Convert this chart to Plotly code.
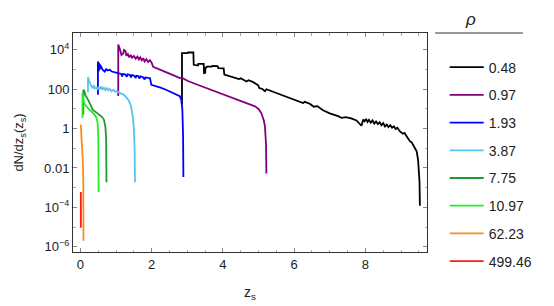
import plotly.graph_objects as go

rho_labels = ["0.48", "0.97", "1.93", "3.87", "7.75", "10.97", "62.23", "499.46"]
colors = ["#000000", "#800080", "#0000ff", "#55c5ee", "#1f9a2e", "#22ee22", "#ff8c1a", "#ff1a1a"]

x_048 = [2.85, 2.85, 3.00, 3.02, 3.17, 3.18, 3.30, 3.31, 3.46, 3.47, 3.50, 3.51, 3.55, 3.68, 3.70, 3.85, 3.87,
         4.02, 4.04, 4.20, 4.33, 4.45, 4.50, 4.60, 4.66, 4.72, 4.85, 4.99, 5.02, 5.10, 5.18, 5.22, 5.40, 5.70,
         6.00, 6.25, 6.30, 6.45, 6.55, 6.65, 6.81, 7.00, 7.25, 7.33, 7.45, 7.60, 7.75, 7.89, 7.94, 7.98, 8.02,
         8.06, 8.10, 8.15, 8.20, 8.25, 8.30, 8.35, 8.40, 8.45, 8.50, 8.55, 8.60, 8.65, 8.70, 8.75, 8.80, 8.85,
         8.90, 8.97, 9.05, 9.10, 9.17, 9.25, 9.30, 9.38, 9.44, 9.48, 9.50, 9.52, 9.53]
y_048 = [17, 6800, 6800, 7400, 7400, 1750, 1600, 1950, 1950, 660, 680, 1200, 1400, 1400, 1550, 1500, 1200,
         1150, 560, 470, 380, 330, 360, 300, 250, 290, 230, 160, 115, 105, 80, 100, 75, 48,
         30, 20, 23, 18, 13, 14, 8.5, 6.0, 4.2, 3.5, 3.8, 3.3, 2.6, 1.4, 2.9, 2.4, 3.1,
         2.2, 2.8, 2.0, 2.6, 1.8, 2.3, 1.7, 2.1, 1.5, 1.9, 1.3, 1.6, 1.2, 1.5, 1.1, 1.3, 0.95,
         1.1, 0.72, 0.55, 0.6, 0.38, 0.23, 0.2, 0.1, 0.07, 0.025, 0.008, 0.002, 0.00012]

x_097 = [1.06, 1.06, 1.10, 1.15, 1.20, 1.22, 1.26, 1.29, 1.33, 1.37, 1.41, 1.45, 1.50, 1.55, 1.60, 1.64, 1.68,
         1.72, 1.76, 1.80, 1.85, 1.90, 1.95, 2.00, 2.04, 2.13, 2.30, 2.50, 2.65, 2.79, 2.85, 2.95, 3.00, 3.25,
         3.50, 3.75, 4.00, 4.25, 4.50, 4.70, 4.90, 5.00, 5.08, 5.15, 5.18, 5.21, 5.22]
y_097 = [45, 19000, 12000, 5500, 6500, 10000, 9000, 5000, 6200, 4200, 5500, 4000, 5000, 3600, 4600, 3300, 4200,
         3000, 3800, 2600, 3400, 2400, 3000, 2200, 1400, 1175, 890, 630, 480, 370, 390, 300, 270, 180,
         123, 83, 56, 38, 26, 19, 13.5, 10, 6, 2.5, 1.26, 0.16, 0.0052]

x_193 = [0.49, 0.49, 0.51, 0.52, 0.54, 0.55, 0.59, 0.62, 0.68, 0.72, 0.76, 0.82, 0.88, 0.95, 1.01, 1.08, 1.14,
         1.17, 1.19, 1.25, 1.30, 1.32, 1.38, 1.42, 1.44, 1.50, 1.55, 1.57, 1.62, 1.66, 1.68, 1.75, 1.80, 1.82,
         1.90, 1.95, 1.99, 2.10, 2.25, 2.40, 2.55, 2.70, 2.79, 2.83, 2.86, 2.88, 2.89]
y_193 = [52, 2600, 800, 2200, 1000, 1800, 1200, 1000, 800, 1050, 900, 980, 800, 720, 660, 640, 600,
         450, 600, 580, 430, 570, 540, 400, 530, 500, 380, 490, 470, 350, 450, 420, 320, 400,
         380, 370, 170, 150, 120, 95, 72, 55, 44, 30, 10, 0.5, 0.0035]

x_387 = [0.21, 0.21, 0.25, 0.30, 0.35, 0.38, 0.40, 0.45, 0.48, 0.50, 0.55, 0.58, 0.62, 0.66, 0.70, 0.74, 0.78,
         0.82, 0.87, 0.92, 0.97, 1.02, 1.06, 1.15, 1.22, 1.28, 1.35, 1.42, 1.47, 1.50, 1.52, 1.53]
y_387 = [70, 420, 250, 150, 115, 160, 110, 120, 95, 130, 100, 140, 95, 120, 90, 115, 88,
         105, 80, 95, 75, 80, 70, 62, 52, 40, 28, 14, 4, 1, 0.1, 0.0019]

x_775 = [0.08, 0.08, 0.11, 0.14, 0.21, 0.28, 0.35, 0.45, 0.54, 0.60, 0.66, 0.70, 0.72, 0.73]
y_775 = [5, 95, 80, 50, 30, 15, 9, 6.5, 5, 4, 2.8, 1.2, 0.3, 0.0019]

x_1097 = [0.055, 0.055, 0.08, 0.12, 0.19, 0.26, 0.33, 0.40, 0.45, 0.48, 0.50, 0.51]
y_1097 = [3.5, 65, 30, 17, 12, 9, 6.5, 5, 3.5, 2.0, 0.4, 0.0006]

x_6223 = [0.01, 0.02, 0.03, 0.05, 0.07, 0.08, 0.085]
y_6223 = [1.6, 1.0, 0.3, 0.08, 0.015, 0.001, 0.000002]

x_49946 = [0.01, 0.01]
y_49946 = [0.0006, 0.0000093]

xs = [x_048, x_097, x_193, x_387, x_775, x_1097, x_6223, x_49946]
ys = [y_048, y_097, y_193, y_387, y_775, y_1097, y_6223, y_49946]

x_tickvals = [0, 2, 4, 6, 8]
y_tickvals = [1e-6, 1e-4, 1e-2, 1, 100, 1e4]
y_ticktext = ["10<sup>−6</sup>", "10<sup>−4</sup>", "0.01", "1", "100", "10<sup>4</sup>"]
y_minorvals = [1e-5, 1e-3, 0.1, 10, 1000]

fig = go.Figure()
for i in range(len(rho_labels)):
    fig.add_trace(go.Scatter(x=xs[i], y=ys[i], mode="lines", name=rho_labels[i],
                             line=dict(color=colors[i], width=1.8),
                             legendgroup="g%d" % i))

font_family = "Liberation Sans, Arial, sans-serif"
fig.update_layout(
    width=554, height=306,
    margin=dict(l=73, r=127, t=33, b=54, autoexpand=False),
    paper_bgcolor="white", plot_bgcolor="white",
    font=dict(family=font_family, size=13, color="#222"),
    showlegend=True,
    legend=dict(x=1.05, y=0.915, xanchor="left", yanchor="top",
                font=dict(size=14, color="#222"), tracegroupgap=6.5, maxheight=600,
                itemwidth=34, bgcolor="rgba(0,0,0,0)"),
    xaxis=dict(range=[-0.21, 9.73], tickvals=x_tickvals, ticks="inside", ticklen=4,
               tickcolor="#888", showline=True, linecolor="#333", linewidth=1, mirror="ticks",
               showgrid=False, zeroline=False, automargin=False,
               minor=dict(dtick=0.5, tick0=0, ticks="inside", ticklen=2.5, tickcolor="#aaa"),
               title=dict(text="z<sub>s</sub>", font=dict(size=14), standoff=16)),
    yaxis=dict(type="log", range=[-6.27, 4.86], tickvals=y_tickvals, ticktext=y_ticktext,
               ticks="inside", ticklen=4, tickcolor="#888", showline=True, linecolor="#333",
               linewidth=1, mirror="ticks", showgrid=False, zeroline=False, automargin=False,
               minor=dict(tickvals=y_minorvals, ticks="inside", ticklen=2.5, tickcolor="#aaa"),
               title=dict(text="dN/dz<sub>s</sub>(z<sub>s</sub>)", font=dict(size=13), standoff=17)),
    annotations=[dict(text="<i>ρ</i>", xref="paper", yref="paper", x=1.144, y=1.06,
                      yanchor="middle", showarrow=False, font=dict(size=17, color="#222"))],
    shapes=[dict(type="line", xref="paper", yref="paper", x0=1.023, x1=1.271, y0=1.0, y1=1.0,
                 line=dict(color="#333", width=1))],
)

fig.write_html("out.html", config={"displayModeBar": False},
               post_script="document.body.style.margin='0';document.body.style.overflow='hidden';")
